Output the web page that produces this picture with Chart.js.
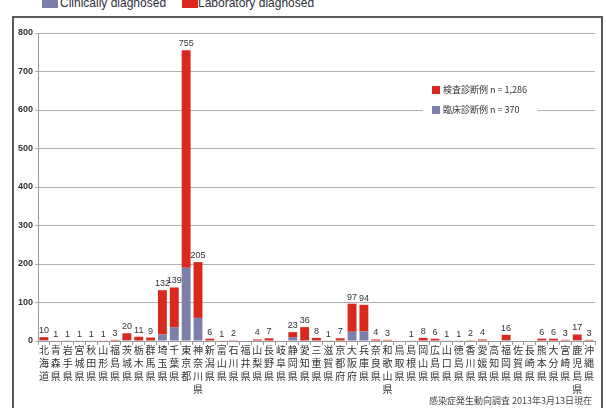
<!DOCTYPE html>
<html>
<head>
<meta charset="utf-8">
<script src="https://cdn.jsdelivr.net/npm/chart.js@4"></script>
<style>
  body { margin: 0; width: 606px; height: 408px; overflow: hidden; background: #fff; position: relative; }
  #frame { position: absolute; left: 12px; top: 16px; width: 591px; height: 410px; border: 2px solid #5a5a5a; box-sizing: border-box; }
  #chart { position: absolute; left: 0; top: 0; }
  .key { position: absolute; top: -4px; width: 16px; height: 12px; }
  .keytext { position: absolute; top: -3px; font: 12px "Liberation Sans", Arial, sans-serif; line-height: 12px; color: #2e2e3a; white-space: nowrap; }
</style>
</head>
<body>
<div id="frame"></div>
<div class="key" style="left:42px;background:#7c7eac"></div>
<div class="keytext" style="left:60px">Clinically diagnosed</div>
<div class="key" style="left:182px;background:#d8291c"></div>
<div class="keytext" style="left:198px">Laboratory diagnosed</div>
<canvas id="chart" width="606" height="408"></canvas>
<script>
// 都道府県別 報告数（臨床診断例 / 検査診断例）
const prefectures = [
  "北海道", "青森県", "岩手県", "宮城県", "秋田県", "山形県", "福島県", "茨城県", "栃木県", "群馬県",
  "埼玉県", "千葉県", "東京都", "神奈川県", "新潟県", "富山県", "石川県", "福井県", "山梨県", "長野県",
  "岐阜県", "静岡県", "愛知県", "三重県", "滋賀県", "京都府", "大阪府", "兵庫県", "奈良県", "和歌山県",
  "鳥取県", "島根県", "岡山県", "広島県", "山口県", "徳島県", "香川県", "愛媛県", "高知県", "福岡県",
  "佐賀県", "長崎県", "熊本県", "大分県", "宮崎県", "鹿児島県", "沖縄県"
];
const clinical = [
  2, 0, 0, 0, 0, 0, 0, 2, 0, 0,
  17, 36, 190, 60, 0, 0, 0, 0, 0, 0,
  0, 10, 0, 0, 0, 0, 24, 25, 0, 0,
  0, 0, 0, 0, 0, 0, 0, 0, 0, 2,
  0, 0, 0, 0, 0, 2, 0
];
const laboratory = [
  8, 1, 1, 1, 1, 1, 3, 18, 11, 9,
  115, 103, 565, 145, 6, 1, 2, 0, 4, 7,
  0, 13, 36, 8, 1, 7, 73, 69, 4, 3,
  0, 1, 8, 6, 1, 1, 2, 4, 0, 14,
  0, 0, 6, 6, 3, 15, 3
];
const yTicks = { min: 0, max: 800, step: 100 };
const sourceNote = "感染症発生動向調査 2013年3月13日現在";

const RED = "#d8291c";
const PURPLE = "#7c7eac";
const jpFont = '"Noto Sans CJK JP", "Noto Sans", sans-serif';
const numFont = '"Liberation Sans", Arial, sans-serif';

const sum = (arr) => arr.reduce((a, b) => a + b, 0);

// totals above each stacked bar, inner key and source note
const annotations = {
  id: "annotations",
  afterDatasetsDraw(chart) {
    const ctx = chart.ctx;
    const top = chart.getDatasetMeta(1);
    ctx.save();
    ctx.fillStyle = "#333";
    ctx.font = "9px " + numFont;
    ctx.textAlign = "center";
    ctx.textBaseline = "bottom";
    prefectures.forEach((p, i) => {
      const total = clinical[i] + laboratory[i];
      if (total > 0) {
        const bar = top.data[i];
        ctx.fillText(String(total), bar.x, bar.y - 2);
      }
    });

    // key inside the plot
    ctx.fillStyle = "#fff";
    ctx.fillRect(423, 80, 115, 38);
    ctx.textAlign = "left";
    ctx.textBaseline = "middle";
    ctx.fillStyle = RED;
    ctx.fillRect(432, 86, 8, 8);
    ctx.fillStyle = PURPLE;
    ctx.fillRect(432, 106, 8, 8);
    ctx.fillStyle = "#333";
    ctx.font = "9px " + jpFont;
    ctx.fillText("検査診断例 n = " + sum(laboratory).toLocaleString("en-US"), 443, 90);
    ctx.fillText("臨床診断例 n = " + sum(clinical).toLocaleString("en-US"), 443, 110);

    ctx.textAlign = "right";
    ctx.font = "9px " + jpFont;
    ctx.fillStyle = "#444";
    ctx.fillText(sourceNote, 592, 401);
    ctx.restore();
  }
};

new Chart(document.getElementById("chart"), {
  type: "bar",
  data: {
    labels: prefectures.map((p) => Array.from(p)),
    datasets: [
      { label: "Clinically diagnosed", data: clinical, backgroundColor: PURPLE },
      { label: "Laboratory diagnosed", data: laboratory, backgroundColor: RED }
    ]
  },
  options: {
    responsive: false,
    animation: false,
    layout: { padding: { left: 12, top: 33, right: 11, bottom: 0 } },
    datasets: { bar: { categoryPercentage: 1, barPercentage: 0.75 } },
    plugins: { legend: { display: false }, tooltip: { enabled: false } },
    scales: {
      x: {
        stacked: true,
        grid: { offset: true, drawOnChartArea: false, tickLength: 4, color: "#999" },
        border: { color: "#999" },
        ticks: {
          autoSkip: false,
          maxRotation: 0,
          padding: -1,
          color: "#333",
          font: { family: jpFont, size: 10, lineHeight: "13px" }
        },
        afterFit(axis) { axis.height = 67; }
      },
      y: {
        stacked: true,
        min: yTicks.min,
        max: yTicks.max,
        ticks: {
          stepSize: yTicks.step,
          padding: 2,
          color: "#333",
          font: { family: numFont, size: 9, weight: "bold" }
        },
        grid: { color: "#b0b0b0", tickLength: 3 },
        border: { color: "#999" },
        afterFit(axis) { axis.width = 26; }
      }
    }
  },
  plugins: [annotations]
});
</script>
</body>
</html>
